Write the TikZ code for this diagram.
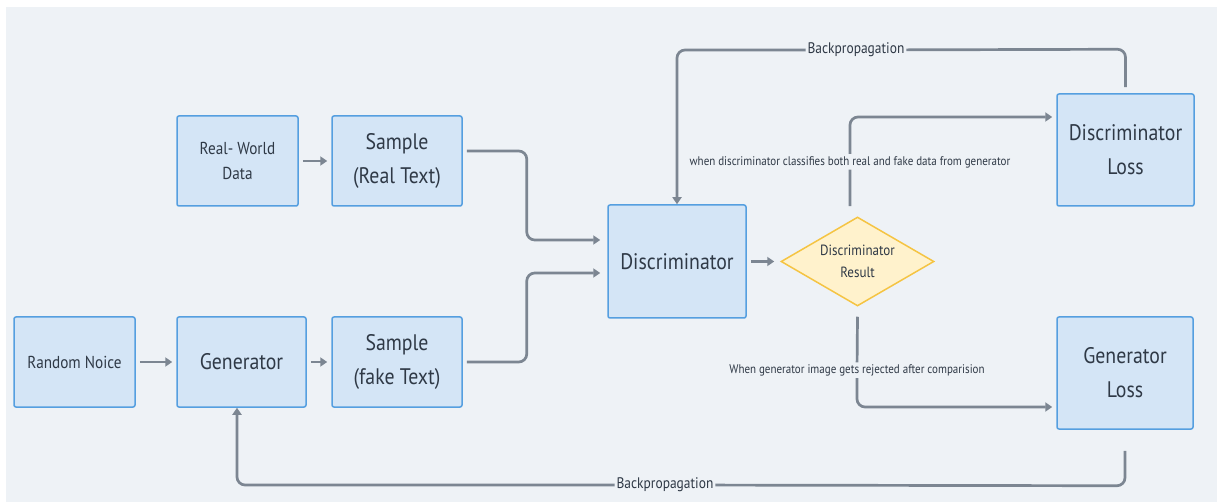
\documentclass[tikz,border=0pt]{standalone}
\usepackage{fontspec}
\setmainfont{PT Sans}[FakeStretch=0.88]
\usetikzlibrary{arrows.meta,shapes.geometric}
\definecolor{bgc}{HTML}{EEF2F6}
\definecolor{boxfill}{HTML}{D4E5F6}
\definecolor{boxline}{HTML}{559FE0}
\definecolor{diafill}{HTML}{FFF2CC}
\definecolor{dialine}{HTML}{F5C443}
\definecolor{conncol}{HTML}{7C8692}
\definecolor{txtcol}{HTML}{2F3946}
\tikzset{
  box/.style={draw=boxline, fill=boxfill, line width=1.5pt, rounded corners=2pt,
    align=center, text=txtcol, inner sep=0pt},
  big/.style={font=\fontsize{22.5}{34}\selectfont},
  small/.style={font=\fontsize{17.3}{25}\selectfont},
  decision/.style={diamond, draw=dialine, fill=diafill, line width=1.5pt, align=center,
    text=txtcol, inner sep=0pt, minimum width=153pt, minimum height=89pt, aspect=1.72,
    font=\fontsize{14.8}{22}\selectfont},
  conn/.style={draw=conncol, line width=2.7pt, rounded corners=8pt,
    -{Triangle[length=7pt,width=9pt]}},
  lbl/.style={fill=bgc, text=txtcol, inner sep=2pt, font=\fontsize{12.5}{14}\selectfont},
  bplbl/.style={lbl, font=\fontsize{15.3}{17}\selectfont}
}
\begin{document}
\begin{tikzpicture}[x=1pt,y=-1pt]
\useasboundingbox (0,0) rectangle (1217,502);
\fill[white] (0,0) rectangle (1217,502);
\fill[bgc] (6,7) rectangle (1217,502);

\node[box, small, minimum width=121pt, minimum height=90pt] (rwd) at (237.5,161) {Real- World\\Data};
\node[box, big, minimum width=130pt, minimum height=90pt] (sr) at (397,161) {Sample\\(Real Text)};
\node[box, small, minimum width=121pt, minimum height=90pt] (rn) at (74.5,362) {Random Noice};
\node[box, big, minimum width=129pt, minimum height=90pt] (gen) at (241.5,362) {Generator};
\node[box, big, minimum width=130pt, minimum height=90pt] (sf) at (397,362) {Sample\\(fake Text)};
\node[box, big, minimum width=138pt, minimum height=113pt] (disc) at (677,261.5) {Discriminator};
\node[decision] (dia) at (857.5,261.5) {Discriminator\\Result};
\node[box, big, minimum width=137pt, minimum height=112pt] (dl) at (1125.5,150) {Discriminator\\Loss};
\node[box, big, minimum width=136pt, minimum height=112pt] (gl) at (1125,373) {Generator\\Loss};

\draw[conn, shorten <=4pt, shorten >=4pt] (rwd) -- (sr);
\draw[conn, shorten <=4pt, shorten >=4pt] (rn) -- (gen);
\draw[conn, shorten <=4pt, shorten >=4pt] (gen) -- (sf);
\draw[conn, shorten <=4pt, shorten >=6pt] (disc) -- (dia);
\draw[conn, shorten <=4pt, shorten >=7pt] ([yshift=10pt]sr.east) -- ++(64,0) |- ([yshift=21.5pt]disc.west);
\draw[conn, shorten <=4pt, shorten >=7pt] (sf.east) -- ++(64,0) |- ([yshift=-11.5pt]disc.west);

\draw[conn, shorten >=4pt] ([shift={(-7.5pt,10pt)}]dia.north) -- (850,162)
  node[lbl] {when discriminator classifies both real and fake data from generator}
  |- ([yshift=33pt]dl.west);
\draw[conn, shorten >=4pt] ([yshift=-10pt]dia.south) -- (857,370)
  node[lbl] {When generator image gets rejected after comparision}
  |- ([yshift=-34pt]gl.west);

\draw[conn] ([yshift=6pt]dl.north) -- ++(0,-38) -- (856,50)
  node[bplbl] {Backpropagation} -| (disc.north);
\draw[conn] ([yshift=-21pt]gl.south) -- ++(0,35) -- (665,485)
  node[bplbl] {Backpropagation} -| ([xshift=-4.5pt]gen.south);
\end{tikzpicture}
\end{document}
